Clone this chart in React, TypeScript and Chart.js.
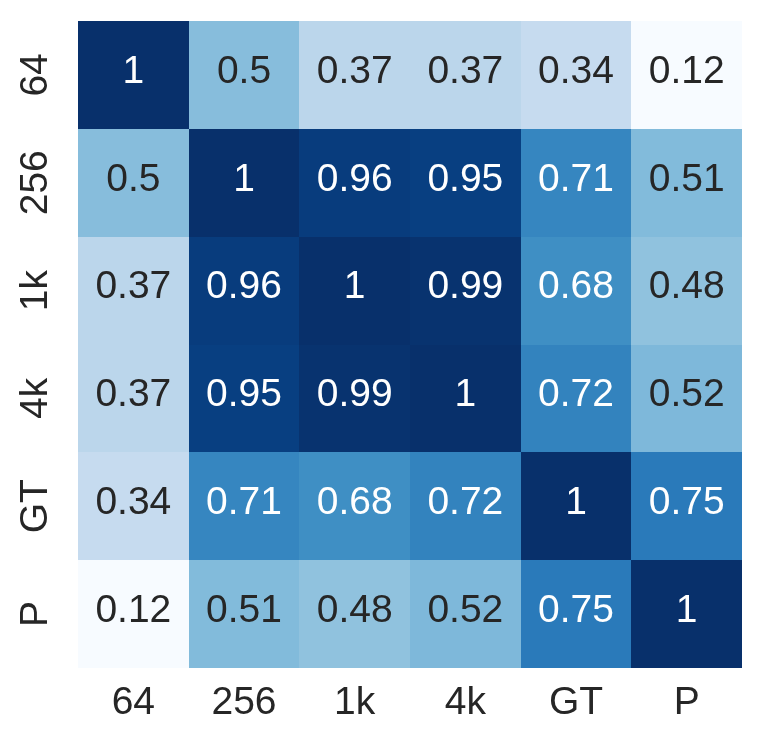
import React, { useEffect, useRef } from 'react';
import { Chart, registerables } from 'chart.js';

Chart.register(...registerables);

const xLabels = ['64', '256', '1k', '4k', 'GT', 'P'];
const yLabels = ['64', '256', '1k', '4k', 'GT', 'P'];

const row64 = [1, 0.5, 0.37, 0.37, 0.34, 0.12];
const row256 = [0.5, 1, 0.96, 0.95, 0.71, 0.51];
const row1k = [0.37, 0.96, 1, 0.99, 0.68, 0.48];
const row4k = [0.37, 0.95, 0.99, 1, 0.72, 0.52];
const rowGT = [0.34, 0.71, 0.68, 0.72, 1, 0.75];
const rowP = [0.12, 0.51, 0.48, 0.52, 0.75, 1];

const matrix = [row64, row256, row1k, row4k, rowGT, rowP];

const BLUES = ['#f7fbff', '#deebf7', '#c6dbef', '#9ecae1', '#6baed6', '#4292c6', '#2171b5', '#08519c', '#08306b'];
const FONT = '"Liberation Sans", Arial, Helvetica, sans-serif';
const DARK = '#262626';

function hexToRgb(h: string): number[] {
  return [parseInt(h.slice(1, 3), 16), parseInt(h.slice(3, 5), 16), parseInt(h.slice(5, 7), 16)];
}

function blues(t: number): number[] {
  const tt = Math.max(0, Math.min(1, t));
  const pos = tt * (BLUES.length - 1);
  const i = Math.min(Math.floor(pos), BLUES.length - 2);
  const f = pos - i;
  const a = hexToRgb(BLUES[i]);
  const b = hexToRgb(BLUES[i + 1]);
  return [0, 1, 2].map((k) => Math.round(a[k] + (b[k] - a[k]) * f));
}

function luminance(rgb: number[]): number {
  const lin = rgb.map((c) => {
    const v = c / 255;
    return v <= 0.03928 ? v / 12.92 : Math.pow((v + 0.055) / 1.055, 2.4);
  });
  return 0.2126 * lin[0] + 0.7152 * lin[1] + 0.0722 * lin[2];
}

const allVals = matrix.flat();
const vmin = Math.min(...allVals);
const vmax = Math.max(...allVals);

const heatPlugin = {
  id: 'heat',
  beforeDatasetsDraw(chart: any) {
    const { ctx } = chart;
    const xs = chart.scales.x;
    const ys = chart.scales.y;
    const cw = Math.abs(xs.getPixelForValue(1) - xs.getPixelForValue(0));
    const ch = Math.abs(ys.getPixelForValue(1) - ys.getPixelForValue(0));
    const meta = chart.getDatasetMeta(0);
    const data = chart.data.datasets[0].data;
    ctx.save();
    meta.data.forEach((el: any, i: number) => {
      const v = data[i].v;
      const rgb = blues((v - vmin) / (vmax - vmin));
      const l = Math.round(el.x - cw / 2);
      const r = Math.round(el.x + cw / 2);
      const t = Math.round(el.y - ch / 2);
      const b = Math.round(el.y + ch / 2);
      ctx.fillStyle = `rgb(${rgb[0]},${rgb[1]},${rgb[2]})`;
      ctx.fillRect(l, t, r - l, b - t);
    });
    meta.data.forEach((el: any, i: number) => {
      const v = data[i].v;
      const rgb = blues((v - vmin) / (vmax - vmin));
      ctx.fillStyle = luminance(rgb) > 0.408 ? DARK : '#ffffff';
      ctx.font = `39px ${FONT}`;
      ctx.textAlign = 'center';
      ctx.textBaseline = 'middle';
      ctx.fillText(String(Number(v.toFixed(2))), el.x, el.y - 3);
    });
    ctx.restore();
  },
  afterDraw(chart: any) {
    const { ctx } = chart;
    const ys = chart.scales.y;
    ctx.save();
    ctx.fillStyle = DARK;
    ctx.font = `39px ${FONT}`;
    ctx.textAlign = 'center';
    ctx.textBaseline = 'middle';
    yLabels.forEach((lab, i) => {
      const py = ys.getPixelForValue(i);
      ctx.save();
      ctx.translate(36, py);
      ctx.rotate(-Math.PI / 2);
      ctx.fillText(lab, 0, 0);
      ctx.restore();
    });
    ctx.restore();
  },
};

export default function App() {
  const ref = useRef<HTMLCanvasElement | null>(null);
  useEffect(() => {
    document.body.style.margin = '0';
    if (!ref.current) return;
    const points: any[] = [];
    matrix.forEach((row, ri) => {
      row.forEach((v, ci) => {
        points.push({ x: xLabels[ci], y: yLabels[ri], v });
      });
    });
    const chart = new Chart(ref.current, {
      type: 'scatter',
      data: {
        datasets: [
          {
            data: points,
            pointRadius: 0,
            pointHoverRadius: 0,
            backgroundColor: 'rgba(0,0,0,0)',
          },
        ],
      },
      options: {
        animation: false,
        responsive: false,
        events: [],
        layout: { padding: { left: 0, top: 21, right: 21, bottom: 0 } },
        plugins: { legend: { display: false }, tooltip: { enabled: false } },
        scales: {
          x: {
            type: 'category',
            labels: xLabels,
            offset: true,
            grid: { display: false, drawTicks: false },
            border: { display: false },
            ticks: {
              color: DARK,
              font: { size: 39, family: FONT },
              padding: 12,
              maxRotation: 0,
              minRotation: 0,
              autoSkip: false,
            },
            afterFit: (s: any) => {
              s.height = 78;
            },
          },
          y: {
            type: 'category',
            labels: yLabels,
            offset: true,
            grid: { display: false, drawTicks: false },
            border: { display: false },
            ticks: { display: false },
            afterFit: (s: any) => {
              s.width = 78;
            },
          },
        },
      },
      plugins: [heatPlugin],
    });
    return () => chart.destroy();
  }, []);
  return (
    <div style={{ width: 763, height: 746 }}>
      <canvas ref={ref} width={763} height={746} />
    </div>
  );
}
